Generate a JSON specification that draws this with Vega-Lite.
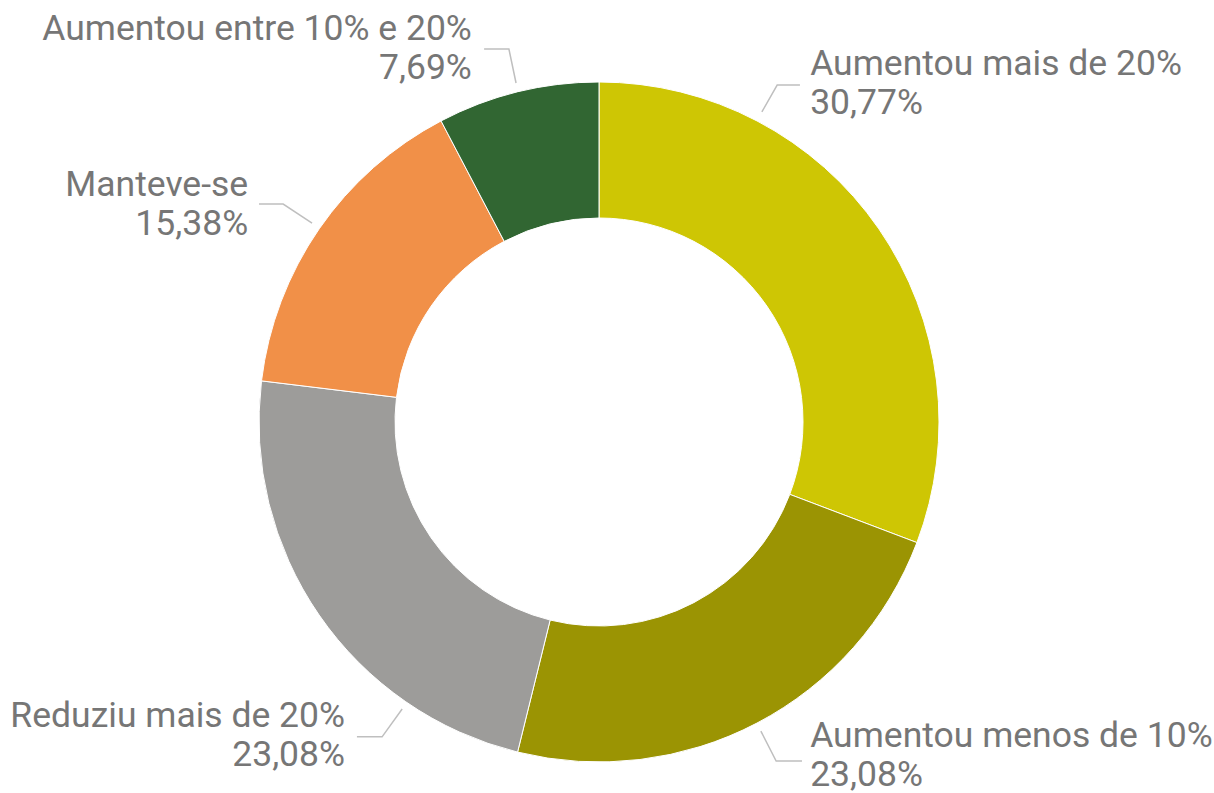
{
  "$schema": "https://vega.github.io/schema/vega-lite/v6.json",
  "width": 1214,
  "height": 793,
  "padding": 0,
  "autosize": {"type": "none"},
  "background": "white",
  "config": {"view": {"stroke": null}},
  "datasets": {
    "fatias": [
      {"categoria": "Aumentou mais de 20%", "valor": 30.77, "ordem": 1},
      {"categoria": "Aumentou menos de 10%", "valor": 23.08, "ordem": 2},
      {"categoria": "Reduziu mais de 20%", "valor": 23.08, "ordem": 3},
      {"categoria": "Manteve-se", "valor": 15.38, "ordem": 4},
      {"categoria": "Aumentou entre 10% e 20%", "valor": 7.69, "ordem": 5}
    ],
    "guias": [
      {"id": 1, "p": 1, "x": 0.479, "y": 0.912},
      {"id": 1, "p": 2, "x": 0.524, "y": 0.991},
      {"id": 1, "p": 3, "x": 0.591, "y": 0.991},
      {"id": 2, "p": 1, "x": 0.476, "y": -0.909},
      {"id": 2, "p": 2, "x": 0.521, "y": -0.997},
      {"id": 2, "p": 3, "x": 0.597, "y": -0.997},
      {"id": 3, "p": 1, "x": -0.579, "y": -0.844},
      {"id": 3, "p": 2, "x": -0.638, "y": -0.926},
      {"id": 3, "p": 3, "x": -0.712, "y": -0.926},
      {"id": 4, "p": 1, "x": -0.844, "y": 0.585},
      {"id": 4, "p": 2, "x": -0.929, "y": 0.641},
      {"id": 4, "p": 3, "x": -1.0, "y": 0.641},
      {"id": 5, "p": 1, "x": -0.244, "y": 0.997},
      {"id": 5, "p": 2, "x": -0.265, "y": 1.097},
      {"id": 5, "p": 3, "x": -0.338, "y": 1.097}
    ],
    "rotulosDireita": [
      {"texto": "Aumentou mais de 20%\n30,77%", "x": 0.621, "y": 1.021},
      {"texto": "Aumentou menos de 10%\n23,08%", "x": 0.621, "y": -0.955}
    ],
    "rotulosEsquerda": [
      {"texto": "Reduziu mais de 20%\n23,08%", "x": -0.747, "y": -0.897},
      {"texto": "Manteve-se\n15,38%", "x": -1.032, "y": 0.665},
      {"texto": "Aumentou entre 10% e 20%\n7,69%", "x": -0.374, "y": 1.124}
    ]
  },
  "layer": [
    {
      "data": {"name": "fatias"},
      "mark": {"type": "arc", "outerRadius": 340, "innerRadius": 204, "stroke": "white", "strokeWidth": 1},
      "encoding": {
        "theta": {"field": "valor", "type": "quantitative", "stack": true},
        "order": {"field": "ordem", "type": "quantitative"},
        "color": {
          "field": "categoria",
          "type": "nominal",
          "scale": {
            "domain": ["Aumentou mais de 20%", "Aumentou menos de 10%", "Reduziu mais de 20%", "Manteve-se", "Aumentou entre 10% e 20%"],
            "range": ["#CEC604", "#9B9403", "#9D9C9A", "#F19048", "#316632"]
          },
          "legend": null
        },
        "x": {"datum": 0, "type": "quantitative", "scale": {"domain": [-1.7618, 1.8088], "nice": false, "zero": false}, "axis": null},
        "y": {"datum": 0, "type": "quantitative", "scale": {"domain": [-1.0912, 1.2412], "nice": false, "zero": false}, "axis": null}
      }
    },
    {
      "data": {"name": "guias"},
      "mark": {"type": "line", "color": "#BFBFBF", "strokeWidth": 1.5},
      "encoding": {
        "x": {"field": "x", "type": "quantitative", "scale": {"domain": [-1.7618, 1.8088], "nice": false, "zero": false}, "axis": null},
        "y": {"field": "y", "type": "quantitative", "scale": {"domain": [-1.0912, 1.2412], "nice": false, "zero": false}, "axis": null},
        "detail": {"field": "id", "type": "nominal"},
        "order": {"field": "p", "type": "quantitative"}
      }
    },
    {
      "data": {"name": "rotulosDireita"},
      "mark": {"type": "text", "align": "left", "baseline": "alphabetic", "font": "Roboto", "fontSize": 35.5, "color": "#767676", "lineBreak": "\n", "lineHeight": 39},
      "encoding": {
        "x": {"field": "x", "type": "quantitative", "scale": {"domain": [-1.7618, 1.8088], "nice": false, "zero": false}, "axis": null},
        "y": {"field": "y", "type": "quantitative", "scale": {"domain": [-1.0912, 1.2412], "nice": false, "zero": false}, "axis": null},
        "text": {"field": "texto", "type": "nominal"}
      }
    },
    {
      "data": {"name": "rotulosEsquerda"},
      "mark": {"type": "text", "align": "right", "baseline": "alphabetic", "font": "Roboto", "fontSize": 35.5, "color": "#767676", "lineBreak": "\n", "lineHeight": 39},
      "encoding": {
        "x": {"field": "x", "type": "quantitative", "scale": {"domain": [-1.7618, 1.8088], "nice": false, "zero": false}, "axis": null},
        "y": {"field": "y", "type": "quantitative", "scale": {"domain": [-1.0912, 1.2412], "nice": false, "zero": false}, "axis": null},
        "text": {"field": "texto", "type": "nominal"}
      }
    }
  ]
}
